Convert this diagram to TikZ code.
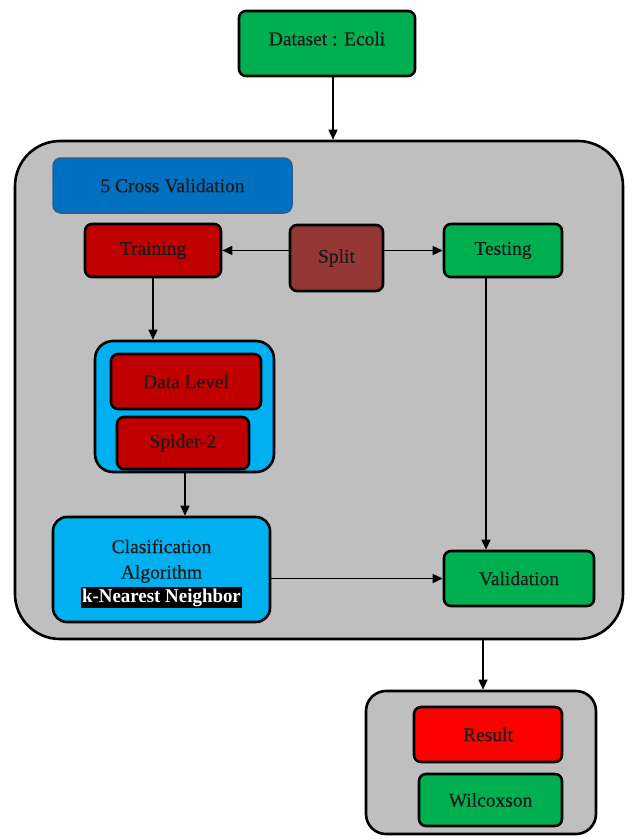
\documentclass[tikz,border=0pt]{standalone}
\usepackage{fontspec}
\setmainfont{Liberation Serif}[FakeBold=0.4]
\newfontfamily\knnfont{Liberation Serif}[FakeStretch=0.97]
\usetikzlibrary{arrows.meta}
\definecolor{cgreen}{HTML}{00B050}
\definecolor{cred}{HTML}{C00000}
\definecolor{cbrown}{HTML}{953735}
\definecolor{cblue}{HTML}{0070C0}
\definecolor{cblueb}{HTML}{2F5C8F}
\definecolor{ccyan}{HTML}{00B0F0}
\definecolor{cgray}{HTML}{BFBFBF}
\definecolor{cbright}{HTML}{FF0000}
\definecolor{ctext}{HTML}{1A1A1A}
\tikzset{
  boxn/.style={draw=black, line width=2.6pt, rounded corners=7pt, inner sep=0pt,
    font=\fontsize{19.5}{24.5}\selectfont, text=ctext, align=center},
  arr/.style={line width=1.4pt, -{Triangle[length=10pt,width=9pt]}}
}
\newcommand{\bx}[7]{% name, x1,y1,x2,y2, style, text
  \node[boxn,#6, minimum width={(#4-#2)*1pt}, minimum height={(#5-#3)*1pt}] (#1) at ({(#2+#4)/2},{(#3+#5)/2}) {#7};}
\begin{document}
\begin{tikzpicture}[x=1pt,y=-1pt]
\useasboundingbox (0,0) rectangle (633,839);
% containers
\bx{main}{15}{141}{623}{639}{fill=cgray, rounded corners=45pt}{}
\bx{res}{366}{691}{596}{834}{fill=cgray, rounded corners=20pt}{}
\bx{dl}{95}{341}{274}{472}{fill=ccyan, rounded corners=18pt}{}
% boxes
\bx{data}{239}{11}{415}{76}{fill=cgreen}{\raisebox{10pt}{Dataset : Ecoli}}
\bx{cv}{53}{158}{292}{213}{fill=cblue, draw=cblueb, line width=1.5pt, rounded corners=8pt}{5 Cross Validation}
\bx{train}{85}{224}{221}{277}{fill=cred}{\raisebox{-2pt}{Training}}
\bx{split}{290}{225}{383}{291}{fill=cbrown}{Split}
\bx{test}{444}{224}{562}{277}{fill=cgreen}{Testing}
\bx{level}{111}{354}{261}{409}{fill=cred}{Data Level}
\bx{spider}{117}{417}{249}{469}{fill=cred}{Spider-2}
\bx{clas}{53}{517}{270}{622}{fill=ccyan, rounded corners=14pt}{\rule{0pt}{22pt}Clasification\\[1pt]Algorithm\\[-1pt]\setlength{\fboxsep}{1.5pt}\colorbox{black}{\textcolor{white}{\knnfont\fontsize{19.5}{20}\selectfont\bfseries k-Nearest Neighbor}}}
\bx{valid}{444}{551}{594}{606}{fill=cgreen}{Validation}
\bx{result}{414}{707}{562}{762}{fill=cbright}{Result}
\bx{wil}{419}{774}{562}{826}{fill=cgreen}{Wilcoxson}
% connectors
\draw[arr] (data.south -| 333,0) -- (main.north -| 333,0);
\draw[arr] (split.west |- train.east) -- (train.east);
\draw[arr] (split.east |- test.west) -- (test.west);
\draw[arr] (train.south -| 153,0) -- (dl.north -| 153,0);
\draw[arr] (dl.south -| 185,0) -- (clas.north -| 185,0);
\draw[arr] (test.south -| 486,0) -- (valid.north -| 486,0);
\draw[arr] (clas.east |- valid.west) -- (valid.west);
\draw[arr] (main.south -| 483,0) -- (res.north -| 483,0);
\end{tikzpicture}
\end{document}
